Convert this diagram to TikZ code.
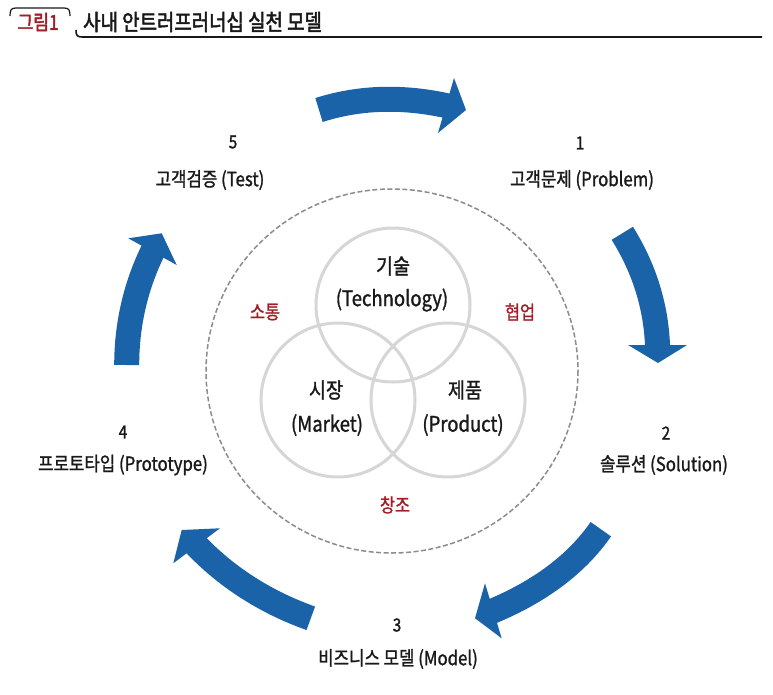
\documentclass[tikz,border=0pt]{standalone}
\usepackage{fontspec}
\setmainfont{Noto Sans CJK KR}[FakeStretch=0.88]
\newfontfamily\krfont{Noto Sans CJK KR}[FakeStretch=0.86,FakeBold=1.2]
\newfontfamily\krtitle{Noto Sans CJK KR}[FakeStretch=0.84,FakeBold=2.2]
\definecolor{arrowblue}{RGB}{27,99,168}
\definecolor{venngray}{RGB}{214,214,214}
\definecolor{dashgray}{RGB}{140,140,140}
\definecolor{darkred}{RGB}{160,30,38}
\definecolor{textdark}{RGB}{25,25,25}
\begin{document}
\begin{tikzpicture}[x=1pt,y=-1pt,
  arrowbody/.style={draw=arrowblue,line width=25pt,line cap=butt},
  arrowhead/.style={fill=arrowblue},
  numlabel/.style={font=\krfont\fontsize{18}{20}\selectfont,text=textdark,inner sep=0pt},
  steplabel/.style={font=\krfont\fontsize{19.5}{21}\selectfont,text=textdark,inner sep=0pt},
  venntext/.style={font=\krfont\fontsize{21.5}{24}\selectfont,text=textdark,inner sep=0pt},
  redtext/.style={font=\krfont\fontsize{19}{21}\selectfont,text=darkred,inner sep=0pt},
  venncircle/.style={draw=venngray,line width=3pt},
]
\useasboundingbox (0,0) rectangle (773,695);
\fill[white] (0,0) rectangle (773,695);

% title
\draw[textdark,line width=1.2pt] (10,16) .. controls (10,10) and (11,8) .. (16,8) -- (64,8) .. controls (69,8) and (70,10) .. (70,16);
\draw[textdark,line width=1.6pt] (76,30) .. controls (76,35) and (77,37) .. (82,37) -- (762,37);
\node[font=\krtitle\fontsize{20.5}{22}\selectfont,text=darkred,inner sep=0pt] (fig) at (38,22) {그림1};
\node[font=\krtitle\fontsize{22.5}{24}\selectfont,text=textdark,inner sep=0pt,anchor=west] (title) at (83,22) {사내 안트러프러너십 실천 모델};

% dashed outer circle
\draw[dashgray,line width=1.5pt,dash pattern=on 5pt off 2.5pt] (392,371) ellipse [x radius=186, y radius=182];

% venn circles
\draw[venncircle] (393,305) circle [radius=77];
\draw[venncircle] (338,400) circle [radius=77];
\draw[venncircle] (448,400) circle [radius=77];

\node[venntext] (tech1) at (393,266) {기술};
\node[venntext] (tech2) at (392,300) {(Technology)};
\node[venntext] (mkt1) at (326,390) {시장};
\node[venntext] (mkt2) at (327,425) {(Market)};
\node[venntext] (prd1) at (465,390) {제품};
\node[venntext] (prd2) at (463,425) {(Product)};

\node[redtext] (comm) at (265,312) {소통};
\node[redtext] (coop) at (520,312) {협업};
\node[redtext] (crea) at (395,505) {창조};

% step labels
\node[numlabel] (n1) at (580,143) {1};
\node[steplabel] (s1) at (582,180) {고객문제 (Problem)};
\node[numlabel] (n2) at (666,433) {2};
\node[steplabel] (s2) at (664,465) {솔루션 (Solution)};
\node[numlabel] (n3) at (397,625) {3};
\node[steplabel] (s3) at (398,659) {비즈니스 모델 (Model)};
\node[numlabel] (n4) at (123,432) {4};
\node[steplabel] (s4) at (123,465) {프로토타입 (Prototype)};
\node[numlabel] (n5) at (233,142) {5};
\node[steplabel] (s5) at (210,180) {고객검증 (Test)};

% arrows
% 1 top
\draw[arrowbody] (319,110) .. controls (359.5,97.1) and (403,95.8) .. (448.9,106.2);
\fill[arrowhead] (454,78) -- (466,110) -- (438,133) -- cycle;
% 2 right
\draw[arrowbody] (622.3,233.3) .. controls (644.7,269.2) and (656.4,307.5) .. (657.6,348);
\fill[arrowhead] (628,345) -- (658,363) -- (687,345) -- cycle;
% 3 bottom right
\draw[arrowbody] (600.8,529.2) .. controls (576.7,564.1) and (539.5,591.8) .. (490.5,612);
\fill[arrowhead] (485,583.3) -- (475,618.3) -- (501.7,638.3) -- cycle;
% 4 bottom left
\draw[arrowbody] (310.8,618.3) .. controls (265.1,602) and (226,576.8) .. (194.6,543.6);
\fill[arrowhead] (220,528.3) -- (181.7,530) -- (173.3,563.3) -- cycle;
% 5 left
\draw[arrowbody] (126.7,365) .. controls (126.7,323.9) and (136,284.7) .. (153.8,249);
\fill[arrowhead] (128.3,238.3) -- (161.7,233.3) -- (176.7,265) -- cycle;
\end{tikzpicture}
\end{document}
